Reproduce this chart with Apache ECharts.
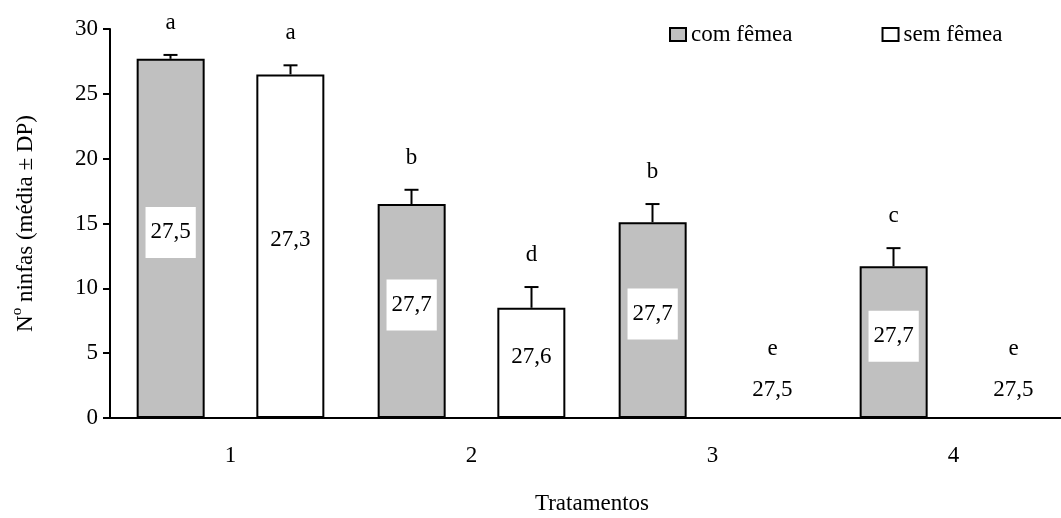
<!DOCTYPE html>
<html>
<head>
<meta charset="utf-8">
<script src="https://cdn.jsdelivr.net/npm/echarts@6/dist/echarts.min.js"></script>
<style>
  html, body { margin: 0; padding: 0; background: #fff; }
  #main { width: 1061px; height: 518px; }
</style>
</head>
<body>
<div id="main"></div>
<script>
// dados
var categorias = ["1", "2", "3", "4"];
var comFemea = [27.7, 16.5, 15.1, 11.7];
var comFemeaDP = [0.3, 1.1, 1.4, 1.4];
var semFemea = [26.5, 8.5, 0, 0];
var semFemeaDP = [0.7, 1.6, 0, 0];
var rotuloCom = ["27,5", "27,7", "27,7", "27,7"];
var rotuloSem = ["27,3", "27,6", "27,5", "27,5"];
var letrasCom = ["a", "b", "b", "c"];
var letrasSem = ["a", "d", "e", "e"];

var fonte = "'Liberation Serif', 'Times New Roman', serif";
var tam = 23;
var myChart = echarts.init(document.getElementById("main"));

// barras de erro + letras (desvio em pixels do centro da categoria)
function erroSerie(nome, valores, dp, letras, deslocX) {
  return {
    name: nome + "_erro",
    type: "custom",
    silent: true,
    z: 5,
    data: valores.map(function (v, i) { return [i, v, dp[i]]; }),
    renderItem: function (params, api) {
      var i = api.value(0);
      var v = api.value(1);
      var d = api.value(2);
      var base = api.coord([i, v]);
      var topo = api.coord([i, v + d]);
      var x = base[0] + deslocX;
      var filhos = [];
      if (d > 0) {
        filhos.push({
          type: "line",
          shape: { x1: x, y1: base[1], x2: x, y2: topo[1] },
          style: { stroke: "#000", lineWidth: 2 }
        });
        filhos.push({
          type: "line",
          shape: { x1: x - 7, y1: topo[1], x2: x + 7, y2: topo[1] },
          style: { stroke: "#000", lineWidth: 2 }
        });
      }
      var gap = v === 0 ? 69 : 32;
      filhos.push({
        type: "text",
        style: {
          text: letras[params.dataIndex],
          x: x,
          y: topo[1] - gap,
          align: "center",
          verticalAlign: "middle",
          font: tam + "px " + fonte,
          fill: "#000"
        }
      });
      return { type: "group", children: filhos };
    }
  };
}

var option = {
  animation: false,
  grid: { left: 110, right: -13, top: 29, bottom: 100, outerBoundsMode: "none" },
  legend: {
    data: ["com fêmea", "sem fêmea"],
    left: 664,
    top: 18,
    itemWidth: 16,
    itemHeight: 13,
    itemGap: 89,
    icon: "rect",
    textStyle: { fontFamily: fonte, fontSize: tam, color: "#000", padding: [10, 0, 0, 0] }
  },
  xAxis: {
    type: "category",
    data: categorias,
    name: "Tratamentos",
    nameLocation: "middle",
    nameGap: 74,
    nameTextStyle: { fontFamily: fonte, fontSize: tam, color: "#000" },
    axisLine: { lineStyle: { color: "#000", width: 2 } },
    axisTick: { show: false },
    axisLabel: { fontFamily: fonte, fontSize: tam, color: "#000", margin: 26 },
    splitLine: { show: false }
  },
  yAxis: {
    type: "value",
    min: 0,
    max: 30,
    interval: 5,
    name: "{n|N}{s|o}{n| ninfas (média ± DP)}",
    nameLocation: "middle",
    nameGap: 68,
    nameRotate: 90,
    nameTextStyle: {
      fontFamily: fonte,
      fontSize: tam,
      color: "#000",
      rich: {
        n: { fontFamily: fonte, fontSize: tam, lineHeight: 32, color: "#000" },
        s: { fontFamily: fonte, fontSize: 15, lineHeight: 12, color: "#000", verticalAlign: "top" }
      }
    },
    axisLine: { show: true, lineStyle: { color: "#000", width: 2 } },
    axisTick: { show: true, length: 7, lineStyle: { color: "#000", width: 2 } },
    axisLabel: { fontFamily: fonte, fontSize: tam, color: "#000", margin: 12 },
    splitLine: { show: false }
  },
  series: [
    {
      name: "com fêmea",
      type: "bar",
      data: comFemea,
      barWidth: 68,
      barGap: "76%",
      itemStyle: { color: "#C0C0C0", borderColor: "#000", borderWidth: 2 },
      label: {
        show: true,
        position: "inside",
        offset: [0, -6],
        formatter: function (p) { return rotuloCom[p.dataIndex]; },
        fontFamily: fonte,
        fontSize: tam,
        color: "#000",
        backgroundColor: "#fff",
        padding: [14, 5, 14, 5]
      }
    },
    {
      name: "sem fêmea",
      type: "bar",
      data: semFemea.map(function (v) {
        if (v === 0) {
          return { value: v, label: { position: "top", distance: 16, offset: [0, 0] } };
        }
        return v;
      }),
      barWidth: 68,
      itemStyle: { color: "#fff", borderColor: "#000", borderWidth: 2 },
      label: {
        show: true,
        position: "inside",
        offset: [0, -6],
        formatter: function (p) { return rotuloSem[p.dataIndex]; },
        fontFamily: fonte,
        fontSize: tam,
        color: "#000"
      }
    },
    erroSerie("com fêmea", comFemea, comFemeaDP, letrasCom, -60),
    erroSerie("sem fêmea", semFemea, semFemeaDP, letrasSem, 60)
  ]
};

myChart.setOption(option);
</script>
</body>
</html>
